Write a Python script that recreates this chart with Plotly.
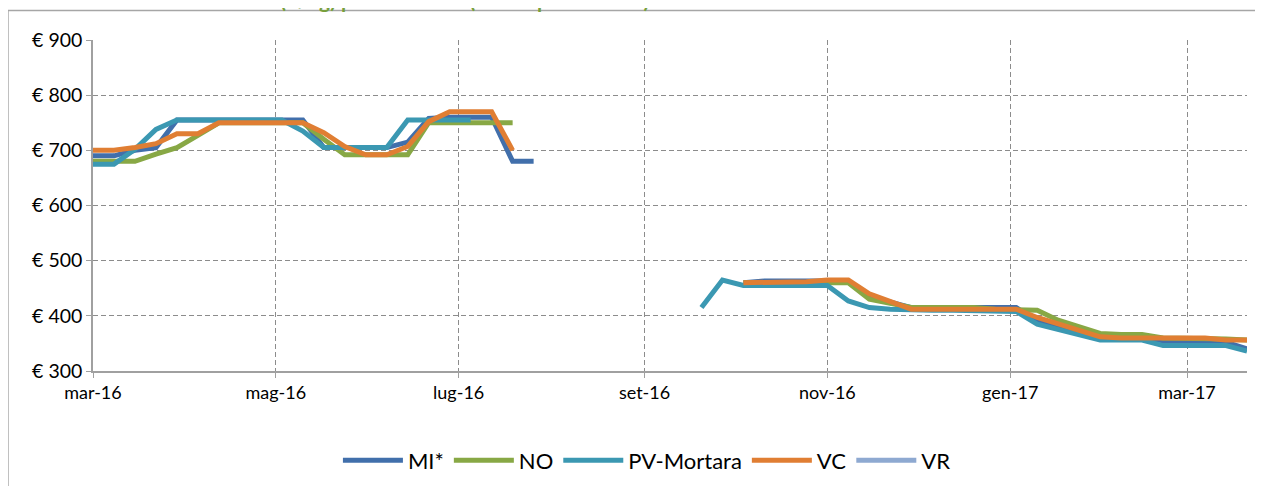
import pandas as pd
import plotly.graph_objects as go

# weekly quotations, first one on 1 March 2016
dates = pd.date_range("2016-03-01", periods=56, freq="7D")
N = None

mi = [690, 690, 700, 705, 755, 755, 755, 755, 755, 755, 755, 705, 705, 705, 705, 715,
      758, 760, 760, 760, 680, 680, N, N, N, N, N, N, N, N, N, 460, 463, 463, 463, 463,
      463, 435, 425, 415, 415, 415, 415, 415, 415, 390, 380, 370, 365, 360, 360, 355,
      355, 355, 352, 340]
no = [680, 680, 680, 693, 705, 727, 750, 750, 750, 750, 750, 720, 692, 692, 692, 692,
      750, 750, 750, 750, 750, N, N, N, N, N, N, N, N, N, N, 460, 460, 460, 460, 460,
      460, 430, 422, 415, 415, 415, 415, 412, 412, 410, 392, 380, 368, 366, 366, 360,
      360, 360, 358, 356]
pv = [675, 675, 702, 738, 755, 755, 755, 755, 755, 755, 735, 705, 705, 705, 705, 755,
      755, 755, 755, N, N, N, N, N, N, N, N, N, N, 415, 465, 455, 455, 455, 455, 455,
      427, 415, 412, 410, 410, 410, 410, 410, 408, 385, 375, 365, 356, 356, 356, 346,
      346, 346, 346, 336]
vc = [700, 700, 705, 712, 730, 730, 750, 750, 750, 750, 750, 732, 707, 692, 692, 707,
      752, 770, 770, 770, 700, N, N, N, N, N, N, N, N, N, N, 460, 460, 460, 462, 465,
      465, 440, 427, 412, 412, 412, 412, 412, 412, 397, 385, 375, 362, 360, 360, 360,
      360, 360, 356, 356]
vr = [N] * 56

names = ["MI*", "NO", "PV-Mortara", "VC", "VR"]
series = [mi, no, pv, vc, vr]
colors = ["#416FAB", "#88A845", "#3B98B2", "#E07E33", "#8EA9D1"]

tick_dates = ["2016-03-01", "2016-05-01", "2016-07-01", "2016-09-01",
              "2016-11-01", "2017-01-01", "2017-03-01"]
tick_text = ["mar-16", "mag-16", "lug-16", "set-16", "nov-16", "gen-17", "mar-17"]
y_ticks = [300, 400, 500, 600, 700, 800, 900]

fig = go.Figure()
for name, vals, col in zip(names, series, colors):
    fig.add_trace(go.Scatter(
        x=dates, y=vals, name=name, mode="lines",
        line=dict(color=col, width=5),
        connectgaps=False,
    ))

font = "Lato, 'Open Sans', sans-serif"
grid = dict(showgrid=True, gridcolor="#8C8C8C", griddash="5px,3px", gridwidth=1.3,
            showline=True, linecolor="#A0A0A0", linewidth=1.5,
            ticks="outside", ticklen=5, tickcolor="#A0A0A0", zeroline=False)

fig.update_layout(
    width=1263,
    height=486,
    margin=dict(l=85, r=24, t=32, b=118),
    paper_bgcolor="white",
    plot_bgcolor="white",
    font=dict(family=font, size=18, color="#000000"),
    showlegend=True,
    legend=dict(
        orientation="h", x=0.48, xanchor="center", y=-0.27, yanchor="middle",
        font=dict(size=22), itemwidth=60,
    ),
    xaxis=dict(
        type="date",
        range=["2016-03-01", "2017-03-21"],
        tickvals=tick_dates, ticktext=tick_text,
        **grid,
    ),
    yaxis=dict(
        range=[300, 900],
        tickvals=y_ticks, ticktext=["€ %d" % v for v in y_ticks],
        tickfont=dict(size=19.5),
        **grid,
    ),
)

# chart frame (cut off at the right and bottom of the page)
fig.add_shape(type="rect", xref="paper", yref="paper",
              x0=-0.0737, x1=1.2, y0=-0.6, y1=1.089,
              line=dict(color="#A6A6A6", width=1.5), fillcolor="rgba(0,0,0,0)")

# title, mostly above the top of the page
fig.add_annotation(
    xref="paper", yref="paper", x=0.102, y=1.081, xanchor="left", yanchor="bottom",
    text="<b>Risone (€/kg) prezzi minimi (media prezzi medi)</b>",
    showarrow=False, font=dict(size=21, color="#77A03C"), borderpad=0,
)

fig.write_html("out.html")
